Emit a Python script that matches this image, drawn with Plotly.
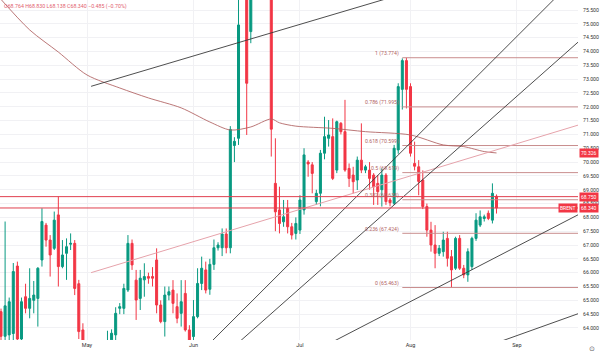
import pandas as pd
import plotly.graph_objects as go

# ---------------- data ----------------
WEEKMASK = "Sun Mon Tue Wed Thu Fri"   # feed has Sunday bars, no Saturday bars
dates = pd.bdate_range("2025-04-07", periods=122, freq="C", weekmask=WEEKMASK)

opens = [64.59, 63.70, 63.75, 63.80, 66.24, 63.60, 65.13, 64.71, 65.00, 65.07,
         66.46, 67.72, 67.18, 66.88, 68.09, 66.22, 66.70, 67.03, 67.06, 65.60,
         63.93,
         63.20, 62.40, 62.30, 62.10, 61.30, 62.80, 63.57, 63.75, 64.71, 64.71,
         65.37, 67.06, 65.73, 65.07, 65.74, 65.86, 65.86, 66.46, 64.83, 64.23,
         65.19, 65.37, 64.77, 64.53, 65.25, 63.93, 63.69, 64.41, 65.61, 66.10,
         65.40, 66.30, 66.90, 66.90, 67.40, 66.90, 70.60, 70.86, 75.90, 76.00,
         74.72, 76.50, 76.80, 78.50, 77.00, 77.50, 69.23, 68.27, 67.84, 68.33,
         67.66, 67.42, 67.54, 68.27, 70.00, 69.90, 68.57, 68.87, 70.32, 70.86,
         70.92, 69.71, 71.40, 71.10, 69.77, 69.53, 69.35, 70.07, 69.71, 69.71,
         69.53, 69.23, 69.00, 69.53, 68.63, 68.51, 70.44, 72.63, 73.67, 72.73,
         69.95, 69.83, 69.35, 68.39, 67.54, 67.00, 66.70, 66.76, 67.24, 66.58,
         66.16, 67.24, 66.16, 65.92, 66.22, 67.24, 67.72, 67.96, 68.15, 67.90,
         68.764]
highs = [64.70, 67.85, 65.10, 66.35, 66.40, 65.10, 65.60, 66.16, 65.70, 66.20,
         68.33, 67.80, 67.36, 68.21, 68.75, 67.18, 67.24, 67.42, 67.18, 65.74,
         64.17,
         63.50, 63.00, 62.60, 62.50, 63.30, 63.90, 63.95, 64.75, 64.90, 65.60,
         67.36, 67.20, 66.10, 66.10, 66.34, 66.00, 66.20, 66.88, 65.00, 65.50,
         65.50, 65.73, 65.25, 65.73, 65.73, 64.10, 65.01, 66.16, 66.58, 66.40,
         66.50, 67.20, 67.10, 67.60, 67.60, 71.30, 70.90, 76.50, 77.00, 76.50,
         77.00, 77.50, 79.00, 79.00, 81.00, 78.00, 70.86, 69.11, 68.63, 68.63,
         67.80, 68.00, 68.80, 70.50, 70.07, 70.00, 69.00, 70.44, 71.64, 71.52,
         71.58, 71.50, 71.45, 72.25, 69.95, 69.83, 70.20, 71.40, 69.90, 70.00,
         69.60, 69.53, 69.77, 69.60, 68.70, 70.62, 72.85, 73.75, 73.774, 72.85,
         70.74, 70.07, 69.70, 68.50, 67.84, 67.72, 67.00, 67.48, 67.48, 66.82,
         67.30, 67.36, 66.28, 66.88, 67.30, 68.15, 68.25, 68.10, 68.25, 69.23,
         68.830]
lows = [63.40, 63.30, 63.40, 63.50, 63.40, 63.40, 64.53, 64.35, 64.53, 64.05,
        66.22, 66.94, 65.86, 66.82, 65.50, 66.16, 65.74, 66.82, 65.19, 63.60,
        63.30,
        62.00, 61.80, 61.90, 60.80, 61.00, 62.50, 63.30, 63.50, 64.50, 64.50,
        65.30, 66.10, 64.29, 64.65, 65.13, 65.60, 65.50, 64.53, 64.17, 63.69,
        65.00, 64.53, 64.17, 64.05, 63.87, 63.20, 63.50, 64.35, 65.37, 65.25,
        65.20, 66.10, 66.80, 66.60, 66.70, 66.70, 70.00, 70.62, 75.90, 70.98,
        74.30, 75.90, 76.00, 76.20, 76.00, 70.20, 67.50, 67.42, 67.66, 67.42,
        67.20, 67.20, 67.40, 68.10, 69.47, 68.87, 68.45, 68.40, 70.10, 70.56,
        69.35, 69.60, 71.00, 69.65, 69.10, 68.87, 68.99, 69.60, 69.60, 69.00,
        68.45, 68.45, 68.39, 68.45, 68.40, 68.45, 70.30, 71.90, 71.94, 70.20,
        69.70, 68.80, 68.30, 67.30, 66.76, 66.16, 66.60, 66.58, 66.22, 65.463,
        66.10, 66.10, 65.80, 65.67, 66.10, 67.15, 67.65, 67.85, 67.90, 67.78,
        68.138]
closes = [63.70, 64.80, 64.95, 66.04, 63.60, 64.95, 64.71, 65.07, 65.19, 66.16,
          67.85, 67.18, 66.64, 67.90, 66.22, 66.64, 66.94, 67.06, 65.43, 63.87,
          63.50,
          62.40, 62.60, 62.10, 61.30, 63.00, 63.50, 63.81, 64.53, 64.77, 65.43,
          67.06, 66.28, 65.01, 65.80, 65.86, 65.80, 65.80, 64.83, 64.23, 65.19,
          65.31, 64.89, 64.35, 64.95, 63.93, 63.50, 64.41, 65.61, 66.16, 65.37,
          66.30, 66.90, 67.00, 67.40, 66.90, 71.18, 70.75, 74.96, 76.20, 72.85,
          76.50, 76.80, 78.50, 77.00, 77.50, 71.19, 68.20, 67.78, 68.02, 67.66,
          67.36, 67.78, 68.63, 70.26, 69.93, 69.59, 68.87, 70.32, 70.92, 70.98,
          69.41, 71.46, 71.10, 69.71, 69.41, 69.29, 70.07, 69.71, 69.83, 69.41,
          69.11, 68.93, 69.53, 68.57, 68.53, 70.50, 72.73, 73.67, 72.63, 70.32,
          69.85, 69.30, 68.39, 67.54, 67.00, 66.70, 66.88, 67.18, 66.52, 66.10,
          67.24, 66.16, 65.92, 66.76, 67.24, 67.90, 68.02, 68.02, 67.96, 68.87,
          68.340]

# moving average, read at points along the curve
ma_dates = ["2025-04-06", "2025-04-15", "2025-04-23", "2025-05-01", "2025-05-11",
            "2025-05-19", "2025-05-28", "2025-06-05", "2025-06-11", "2025-06-17",
            "2025-06-23", "2025-06-25", "2025-06-30", "2025-07-10", "2025-07-20",
            "2025-08-01", "2025-08-11", "2025-08-17", "2025-08-22", "2025-08-26"]
ma_values = [76.05, 74.78, 73.98, 73.15, 72.68, 72.32, 71.96, 71.45, 71.16, 71.27,
             71.56, 71.42, 71.30, 71.22, 71.10, 70.98, 70.62, 70.56, 70.38, 70.33]

# drawn trend lines: (start date, start price, end date, end price)
trend_dark = [
    ("2025-05-02", 72.74, "2025-08-03", 76.21),
    ("2025-06-05", 63.45, "2025-09-16", 76.47),
    ("2025-06-12", 63.34, "2025-09-18", 74.35),
    ("2025-07-10", 63.50, "2025-09-18", 68.10),
    ("2025-08-26", 63.46, "2025-09-18", 64.52),
]
trend_pink = [("2025-05-02", 66.00, "2025-09-18", 71.34)]

# fibonacci retracement
fib_start, fib_end = "2025-07-30", "2025-09-19"
fib_ratios = ["1", "0.786", "0.618", "0.5", "0.382", "0.236", "0"]
fib_levels = [73.774, 71.995, 70.599, 69.619, 68.638, 67.424, 65.463]

hline_levels = [68.750, 68.340]
ma_last = 70.326
header = "O68.764 H68.830 L68.138 C68.340 \u22120.485 (\u22120.70%)"

month_ticks = ["2025-05-01", "2025-06-01", "2025-07-01", "2025-08-01", "2025-09-01"]
month_text = ["May", "Jun", "Jul", "Aug", "Sep"]
price_ticks = [64.0 + 0.5 * k for k in range(24)]

# ---------------- style ----------------
UP, DOWN = "#089981", "#f23645"
FIB_C, FIB_T = "#c98e8e", "#b26464"
FONT = "Roboto"


def noon(d):
    return pd.Timestamp(d) + pd.Timedelta(hours=12)


xs = [d + pd.Timedelta(hours=12) for d in dates]

fig = go.Figure()

# fib lines
for lvl in fib_levels:
    fig.add_trace(go.Scatter(x=[noon(fib_start), noon(fib_end)], y=[lvl, lvl], mode="lines",
                             line=dict(color=FIB_C, width=1), hoverinfo="skip"))

# moving average
fig.add_trace(go.Scatter(x=[noon(d) for d in ma_dates], y=ma_values, mode="lines",
                         line=dict(color="rgba(175,95,95,0.85)", width=1, shape="spline", smoothing=0.8),
                         hoverinfo="skip"))

for (d0, p0, d1, p1) in trend_pink:
    fig.add_trace(go.Scatter(x=[noon(d0), noon(d1)], y=[p0, p1], mode="lines",
                             line=dict(color="#e6a3ab", width=1), hoverinfo="skip"))
for (d0, p0, d1, p1) in trend_dark:
    fig.add_trace(go.Scatter(x=[noon(d0), noon(d1)], y=[p0, p1], mode="lines",
                             line=dict(color="#3a3a3a", width=0.9), hoverinfo="skip"))

fig.add_trace(go.Candlestick(
    x=xs, open=opens, high=highs, low=lows, close=closes,
    increasing=dict(line=dict(color=UP, width=1), fillcolor=UP),
    decreasing=dict(line=dict(color=DOWN, width=1), fillcolor=DOWN),
    whiskerwidth=0, hoverinfo="skip"))

shapes = []
for lvl in hline_levels:
    shapes.append(dict(type="line", xref="paper", x0=0, x1=1, yref="y", y0=lvl, y1=lvl,
                       line=dict(color="#e0404f", width=1)))

ann = []
ann.append(dict(xref="paper", yref="paper", x=0, y=1, xanchor="left", yanchor="top",
                xshift=2, yshift=-1, text=header, showarrow=False,
                font=dict(family=FONT, size=5.3, color="#e2616d")))
for r, lvl in zip(fib_ratios, fib_levels):
    ann.append(dict(xref="x", yref="y", x=noon(fib_start), y=lvl, xanchor="right", yanchor="middle",
                    xshift=-1, yshift=4, text=f"{r} ({lvl:.3f})", showarrow=False,
                    font=dict(family=FONT, size=5.2, color=FIB_T)))
for val in [ma_last, hline_levels[0], hline_levels[1]]:
    ann.append(dict(xref="paper", yref="y", x=1, y=val, xanchor="left", yanchor="middle",
                    xshift=1, text=f"{val:.3f}", showarrow=False, bgcolor=DOWN, borderpad=1,
                    font=dict(family=FONT, size=5, color="white")))
ann.append(dict(xref="paper", yref="y", x=1, y=hline_levels[1], xanchor="right", yanchor="middle",
                xshift=0, text="BRENT", showarrow=False, bgcolor=DOWN, borderpad=1,
                font=dict(family=FONT, size=5, color="white")))
ann.append(dict(xref="paper", yref="paper", x=1, y=0, xanchor="left", yanchor="top",
                xshift=9, yshift=-3, text="\u2299", showarrow=False,
                font=dict(family="DejaVu Sans", size=7, color="#666")))

fig.update_layout(
    width=600, height=352,
    margin=dict(l=0, r=22, t=0, b=12, autoexpand=False),
    paper_bgcolor="white", plot_bgcolor="white",
    showlegend=False,
    shapes=shapes, annotations=ann,
    font=dict(family=FONT, size=5.5, color="#333"),
    xaxis=dict(type="date", range=["2025-04-07 06:08", "2025-09-18 09:36"],
               rangebreaks=[dict(bounds=["sat", "sun"])],
               rangeslider=dict(visible=False),
               tickvals=[noon(d) for d in month_ticks], ticktext=month_text,
               showgrid=True, gridcolor="#f1f1f4", gridwidth=1,
               zeroline=False, showline=False, ticks="",
               tickfont=dict(family=FONT, size=5.5, color="#333")),
    yaxis=dict(side="right", range=[63.565, 75.862], tickvals=price_ticks,
               ticktext=[f"{v:.3f}" for v in price_ticks],
               showgrid=True, gridcolor="#f1f1f4", gridwidth=1,
               zeroline=False, showline=False, ticks="", ticklabelstandoff=4,
               tickfont=dict(family=FONT, size=5.2, color="#333")),
)

fig.write_html("out.html")
